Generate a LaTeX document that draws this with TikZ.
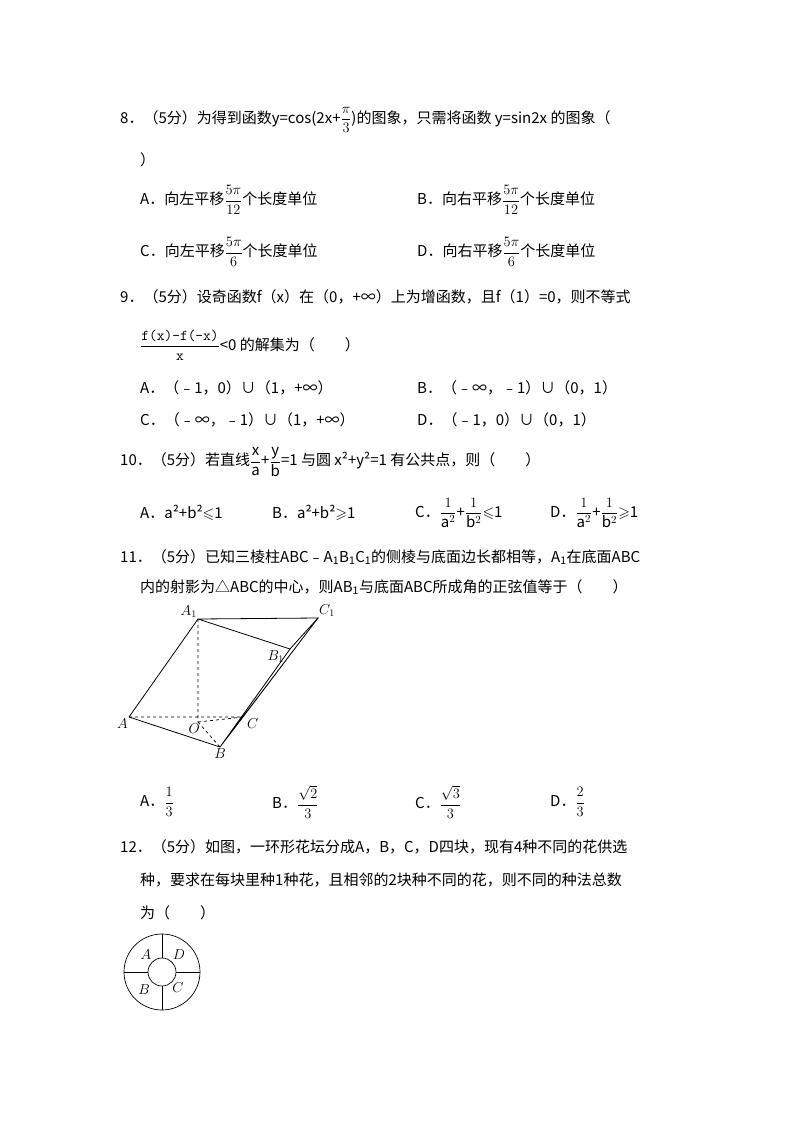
\documentclass[tikz,border=0pt]{standalone}
\usepackage{amsmath,amssymb}
\usepackage{fontspec}
\usetikzlibrary{calc}
\setmainfont{Noto Sans CJK SC}
\begin{document}
\begin{tikzpicture}[x=1pt,y=-1pt,
  t/.style={anchor=west,inner sep=0pt,font=\fontsize{15}{18}\selectfont},
  lbl/.style={inner sep=1pt,font=\fontsize{14}{15}\selectfont},
  solid line/.style={line width=0.8pt},
  hid/.style={line width=0.7pt,dashed}]
\useasboundingbox[fill=white] (0,0) rectangle (800,1132);
\node[t] (q8) at (120,120) {8．（5分）为得到函数y=cos(2x+$\dfrac{\pi}{3}$)的图象，只需将函数 y=sin2x 的图象（};
\node[t] (q8b) at (140,160) {）};
\node[t] (q8A) at (140,200) {A．向左平移$\dfrac{5\pi}{12}$个长度单位};
\node[t] (q8B) at (417,200) {B．向右平移$\dfrac{5\pi}{12}$个长度单位};
\node[t] (q8C) at (140,252) {C．向左平移$\dfrac{5\pi}{6}$个长度单位};
\node[t] (q8D) at (417,252) {D．向右平移$\dfrac{5\pi}{6}$个长度单位};
\node[t] (q9) at (120,297) {9．（5分）设奇函数f（x）在（0，+∞）上为增函数，且f（1）=0，则不等式};
\node[t] (q9b) at (140,345) {$\dfrac{\texttt{f(x)-f(-x)}}{\texttt{x}}$<0 的解集为（　　）};
\node[t] (q9A) at (140,388) {A．（﹣1，0）∪（1，+∞）};
\node[t] (q9B) at (417,388) {B．（﹣∞，﹣1）∪（0，1）};
\node[t] (q9C) at (140,420) {C．（﹣∞，﹣1）∪（1，+∞）};
\node[t] (q9D) at (417,420) {D．（﹣1，0）∪（0，1）};
\node[t] (q10) at (120,462) {10．（5分）若直线$\dfrac{\mathrm{x}}{\mathrm{a}}$+$\dfrac{\mathrm{y}}{\mathrm{b}}$=1 与圆 x²+y²=1 有公共点，则（　　）};
\node[t] (q10A) at (140,513) {A．a²+b²$\leqslant$1};
\node[t] (q10B) at (272,513) {B．a²+b²$\geqslant$1};
\node[t] (q10C) at (415,513) {C．$\dfrac{1}{\mathrm{a}^2}$+$\dfrac{1}{\mathrm{b}^2}$$\leqslant$1};
\node[t] (q10D) at (550,513) {D．$\dfrac{1}{\mathrm{a}^2}$+$\dfrac{1}{\mathrm{b}^2}$$\geqslant$1};
\node[t] (q11) at (120,557) {11．（5分）已知三棱柱ABC﹣A\textsubscript{1}B\textsubscript{1}C\textsubscript{1}的侧棱与底面边长都相等，A\textsubscript{1}在底面ABC};
\node[t] (q11b) at (140,587) {内的射影为△ABC的中心，则AB\textsubscript{1}与底面ABC所成角的正弦值等于（　　）};
% prism
\coordinate (A1) at (198,619); \coordinate (C1) at (318,618); \coordinate (B1) at (290,649);
\coordinate (A) at (129,717); \coordinate (B) at (220,747); \coordinate (C) at (243,717); \coordinate (O) at (198,722);
\draw[solid line] (A)--(A1)--(C1)--(B1)--(A1);
\draw[solid line] (A)--(B)--(C)--(C1)--(B)--(B1);
\draw[hid] (A)--(C) (A1)--(O) (O)--(C) (O)--(B);
\node[lbl,anchor=south east] (lA1) at (A1) {$A_1$};
\node[lbl,anchor=south west] (lC1) at (C1) {$C_1$};
\node[lbl,anchor=north east] (lB1) at ([xshift=-5pt]B1) {$B_1$};
\node[lbl,anchor=north east] (lA) at (A) {$A$};
\node[lbl,anchor=north] (lB) at (B) {$B$};
\node[lbl,anchor=north west] (lC) at ([xshift=3pt]C) {$C$};
\node[lbl,anchor=north east] (lO) at ([xshift=3pt]O) {$O$};
\node[t] (q11A) at (140,802) {A．$\dfrac{1}{3}$};
\node[t] (q11B) at (272,802) {B．$\dfrac{\sqrt{2}}{3}$};
\node[t] (q11C) at (415,802) {C．$\dfrac{\sqrt{3}}{3}$};
\node[t] (q11D) at (550,802) {D．$\dfrac{2}{3}$};
\node[t] (q12) at (120,847) {12．（5分）如图，一环形花坛分成A，B，C，D四块，现有4种不同的花供选};
\node[t] (q12b) at (140,880) {种，要求在每块里种1种花，且相邻的2块种不同的花，则不同的种法总数};
\node[t] (q12c) at (140,913) {为（　　）};
% ring
\coordinate (R) at (162,972);
\draw[line width=0.7pt] (R) circle (38) (R) circle (14);
\foreach \a in {0,90,180,270}{\draw[line width=0.7pt] ($(R)+(\a:14)$)--($(R)+(\a:38)$);}
\node[lbl] (rA) at (146,955) {$A$};
\node[lbl] (rD) at (179,955) {$D$};
\node[lbl] (rB) at (144,990) {$B$};
\node[lbl] (rC) at (178,988) {$C$};
\end{tikzpicture}
\end{document}
